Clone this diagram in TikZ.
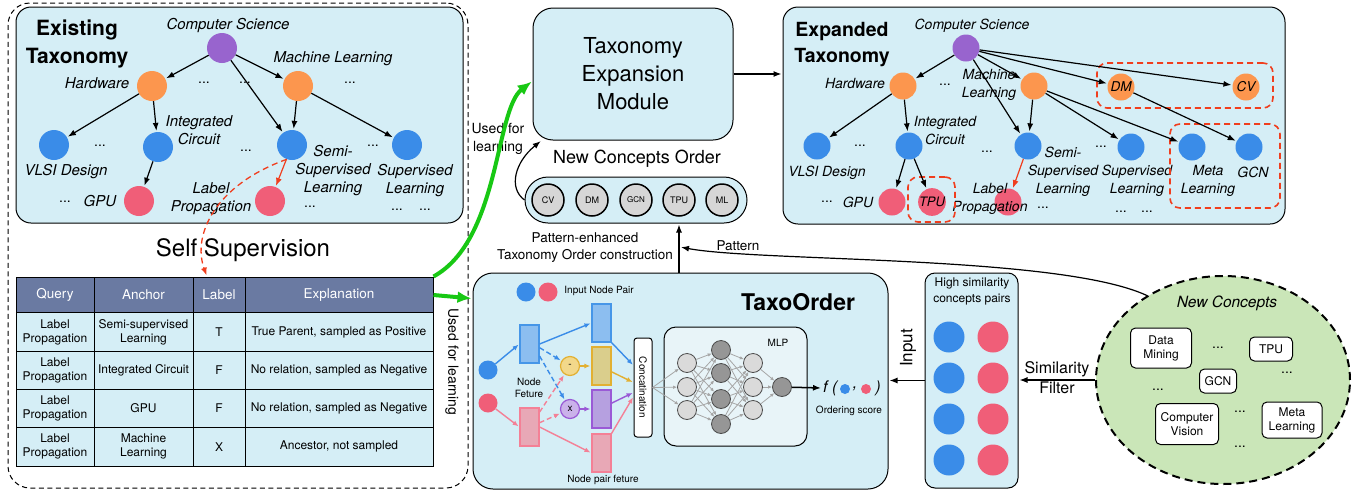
\documentclass[tikz,border=0pt]{standalone}
\usepackage{fontspec}
\setmainfont{TeX Gyre Heros}
\usetikzlibrary{arrows.meta,shapes.geometric,calc}

\definecolor{boxblue}{RGB}{213,238,246}
\definecolor{cspurple}{RGB}{152,100,206}
\definecolor{hworange}{RGB}{252,150,78}
\definecolor{leafblue}{RGB}{58,140,232}
\definecolor{leafred}{RGB}{240,94,120}
\definecolor{headblue}{RGB}{106,122,162}
\definecolor{learngreen}{RGB}{24,200,20}
\definecolor{ncgreen}{RGB}{202,230,184}
\definecolor{dashred}{RGB}{240,62,30}
\definecolor{featblue}{RGB}{140,190,240}
\definecolor{featblueline}{RGB}{70,150,232}
\definecolor{featpink}{RGB}{232,168,182}
\definecolor{featpinkline}{RGB}{244,128,150}
\definecolor{featyellow}{RGB}{218,206,140}
\definecolor{featyellowline}{RGB}{226,176,50}
\definecolor{featpurple}{RGB}{182,160,224}
\definecolor{featpurpleline}{RGB}{154,90,214}
\definecolor{opyellow}{RGB}{242,216,138}
\definecolor{oppurple}{RGB}{202,178,234}
\definecolor{lightneuron}{RGB}{218,218,218}
\definecolor{darkneuron}{RGB}{150,150,150}
\definecolor{mlpfill}{RGB}{232,244,248}
\definecolor{ordergray}{RGB}{214,214,214}

\begin{document}
\begin{tikzpicture}[x=1pt, y=-1pt, shorten >=1pt,
    >={Latex[length=8pt,width=6pt]},
    every edge/.style={draw, line width=1.2pt},
    box/.style={draw, line width=1pt, fill=boxblue, rounded corners=15pt},
    title/.style={font=\bfseries\fontsize{21}{28}\selectfont, align=center},
    lbl/.style={font=\itshape\fontsize{15}{18}\selectfont, align=center, inner sep=1pt},
    dots/.style={font=\fontsize{14}{16}\selectfont, inner sep=0pt},
    tnode/.style={circle, inner sep=0pt, minimum size=30pt},
    cs/.style={tnode, fill=cspurple},
    hw/.style={tnode, fill=hworange},
    leaf/.style={tnode, fill=leafblue},
    pair/.style={tnode, fill=leafred},
    newbox/.style={draw=dashred, dash pattern=on 6pt off 4pt, line width=1.6pt, rounded corners=10pt},
    headcell/.style={draw, line width=1pt, fill=headblue, text=white, minimum height=36pt, font=\fontsize{13.5}{16}\selectfont},
    cell/.style={draw, line width=1pt, fill=boxblue, minimum height=38.25pt, align=center, inner sep=1pt, font=\fontsize{12}{14}\selectfont},
    small/.style={font=\fontsize{10}{12}\selectfont, align=center, inner sep=1pt},
    dot/.style={circle, inner sep=0pt, minimum size=19pt},
    feat/.style={draw, line width=1.2pt, minimum width=19pt, minimum height=38pt, inner sep=0pt},
    op/.style={circle, draw, line width=1.2pt, minimum size=19pt, inner sep=0pt, font=\fontsize{10}{12}\selectfont},
    flow/.style={->, line width=1.4pt, >={Latex[length=6pt,width=5pt]}},
    neuron/.style={circle, draw=black!70, line width=0.8pt, fill=lightneuron, minimum size=19pt, inner sep=0pt},
    mlpedge/.style={->, gray!70, line width=0.8pt, >={Latex[length=4pt,width=3.5pt]}, shorten >=0pt},
    order/.style={circle, draw, line width=1.5pt, fill=ordergray, minimum size=32pt, inner sep=0pt, font=\fontsize{9}{10}\selectfont},
    concept/.style={draw, line width=1pt, fill=white, rounded corners=5pt, align=center, inner sep=3pt, font=\fontsize{12}{14}\selectfont},
    learnarrow/.style={->, learngreen, line width=4pt, >={Latex[length=14pt,width=12pt]}},
    conn/.style={->, line width=1.2pt}]

\useasboundingbox (0,0) rectangle (1369,496);

% Self supervision frame
\node[draw, dash pattern=on 5pt off 3.5pt, line width=1pt, rounded corners=22pt, minimum width=460pt, minimum height=485pt] (frame) at (238,245.5) {};

% Existing taxonomy
\node[box, minimum width=447pt, minimum height=216pt] (exbox) at (239.5,115) {};
\node[title] (extitle) at (77,44) {Existing\\Taxonomy};
\node[cs] (A) at (222,48) {}; % Root node
\node[lbl] (Alab) at (228,25) {Computer Science};
\node[hw] (B) at (152,86) {}; % Child of A
\node[lbl] (Blab) at (97,83) {Hardware};
\node[hw] (C) at (298,86) {}; % Child of A
\node[lbl] (Clab) at (333,59) {Machine Learning};
\node[leaf] (D) at (54,145) {}; % Child of B
\node[lbl] (Dlab) at (66,172) {VLSI Design};
\node[leaf] (E) at (158,147) {}; % Child of B
\node[lbl] (Elab) at (199,130) {Integrated\\Circuit};
\node[leaf] (F) at (292,145) {}; % Child of A and C
\node[lbl] (Flab) at (333,171) {Semi-\\Supervised\\Learning};
\node[leaf] (G) at (407,145) {}; % Child of C
\node[lbl] (Glab) at (415,180.5) {Supervised\\Learning};
\node[pair] (H) at (139,201) {}; % Child of E
\node[lbl] (Hlab) at (100,201) {GPU};
\node[pair] (I) at (270,201) {}; % Child of F
\node[lbl] (Ilab) at (211,199) {Label\\Propagation};
\foreach \p [count=\i] in {(100,146),(204,83),(245,83),(350,83),(246,151),(373,146),(65,202),(310,207),(397,210),(425,210)}
  \node[dots] (ed\i) at \p {...};

% Define edges
\path [->](A) edge (B);
\path [->](A) edge (C);
\path [->](A) edge (F);
\path [->](B) edge (D);
\path [->](B) edge (E);
\path [->](E) edge (H);
\path [->](C) edge (F);
\path [->](C) edge (G);
\path [->](F) edge[dashred] (I);

% Self supervision table
\node[font=\fontsize{24}{28}\selectfont] (selfsup) at (243,250) {Self Supervision};
\node[headcell, minimum width=78pt] (h1) at (55,295) {Query};
\node[headcell, minimum width=99pt] (h2) at (143.5,295) {Anchor};
\node[headcell, minimum width=52pt] (h3) at (219,295) {Label};
\node[headcell, minimum width=188pt] (h4) at (339,295) {Explanation};
\foreach \cy/\cq/\ca/\cl/\ce [count=\cn] in {
    332.1/{Label\\Propagation}/{Semi-supervised\\Learning}/T/{True Parent, sampled as Positive},
    370.4/{Label\\Propagation}/{Integrated Circuit}/F/{No relation, sampled as Negative},
    408.6/{Label\\Propagation}/GPU/F/{No relation, sampled as Negative},
    446.9/{Label\\Propagation}/{Machine\\Learning}/X/{Ancestor, not sampled}} {
  \node[cell, minimum width=78pt] (q\cn) at (55,\cy) {\cq};
  \node[cell, minimum width=99pt] (a\cn) at (143.5,\cy) {\ca};
  \node[cell, minimum width=52pt] (l\cn) at (219,\cy) {\cl};
  \node[cell, minimum width=188pt] (e\cn) at (339,\cy) {\ce};
}
\node[rotate=-90, font=\fontsize{14}{16}\selectfont] (used1) at (452,362) {Used for learning};
\draw[->, dashred, dash pattern=on 6pt off 4pt, line width=1.3pt] (F.-110) .. controls (215,185) and (192,235) .. ($(h3.north)+(-12,0)$);

% Taxonomy expansion module
\node[box, rounded corners=20pt, minimum width=200pt, minimum height=132pt, font=\fontsize{22}{28}\selectfont, align=center] (tem) at (633,74) {Taxonomy\\Expansion\\Module};
\node[font=\fontsize{14}{18}\selectfont, align=center, inner sep=1pt] (used2) at (498,139) {Used for\\learning};
\node[font=\fontsize{18}{20}\selectfont] (ordlab) at (637,159) {New Concepts Order};
\node[box, rounded corners=23pt, minimum width=222pt, minimum height=46pt] (pill) at (636,200) {};
\node[order] (oCV) at (548,200) {CV};
\node[order] (oDM) at (592,200) {DM};
\node[order, font=\fontsize{8}{9}\selectfont] (oGCN) at (636,200) {GCN};
\node[order] (oTPU) at (679,200) {TPU};
\node[order] (oML) at (722,200) {ML};
\node[font=\fontsize{13.5}{17}\selectfont, align=center] (penh) at (585,248) {Pattern-enhanced\\Taxonomy Order construction};

% Expanded taxonomy
\node[box, minimum width=502pt, minimum height=217pt] (xbox) at (1034,115.5) {};
\node[title, font=\bfseries\fontsize{19.5}{26}\selectfont] (xtitle) at (842,45) {Expanded\\Taxonomy};
\begin{scope}[tnode/.append style={minimum size=27pt}, lbl/.append style={font=\itshape\fontsize{14}{18}\selectfont}]
\node[cs] (XA) at (966,48) {}; % Root node
\node[lbl] (XAlab) at (972,26) {Computer Science};
\node[hw] (XB) at (903,86) {};
\node[lbl] (XBlab) at (855,83) {Hardware};
\node[hw] (XC) at (1034,86) {};
\node[lbl] (XClab) at (989,84.5) {Machine\\Learning};
\node[hw, font=\itshape\fontsize{13.5}{15}\selectfont] (XDM) at (1121,87) {DM}; % new concept
\node[hw, font=\itshape\fontsize{13.5}{15}\selectfont] (XCV) at (1246,87) {CV}; % new concept
\node[leaf] (XD) at (817,146) {};
\node[lbl] (XDlab) at (827,173) {VLSI Design};
\node[leaf] (XE) at (909,146) {};
\node[lbl] (XElab) at (945,131) {Integrated\\Circuit};
\node[leaf] (XF) at (1028,146) {};
\node[lbl] (XFlab) at (1063,171.5) {Semi-\\Supervised\\Learning};
\node[leaf] (XG) at (1131,147) {};
\node[lbl] (XGlab) at (1137,181) {Supervised\\Learning};
\node[leaf] (XML) at (1192,147) {}; % new concept
\node[lbl] (XMLlab) at (1208,181) {Meta\\Learning};
\node[leaf] (XGCN) at (1249,147) {}; % new concept
\node[lbl] (XGCNlab) at (1253,172) {GCN};
\node[pair] (XH) at (892,202) {};
\node[lbl] (XHlab) at (858,202) {GPU};
\node[pair, font=\itshape\fontsize{13}{15}\selectfont] (XTPU) at (932,202) {TPU}; % new concept
\node[pair] (XI) at (1008,202) {};
\node[lbl] (XIlab) at (990,199) {Label\\Propagation};
\end{scope}
\foreach \p [count=\i] in {(860,146),(945,85),(987,152),(1101,147),(827,202),(1043,208),(1121,212),(1147,212)}
  \node[dots] (xd\i) at \p {...};
\node[newbox, minimum width=176pt, minimum height=45pt] (newtop) at (1185,85.5) {};
\node[newbox, minimum width=110pt, minimum height=84pt] (newleaf) at (1225,166) {};
\node[newbox, minimum width=47pt, minimum height=45pt] (newtpu) at (931.5,199.5) {};

\path [->](XA) edge (XB);
\path [->](XA) edge (XC);
\path [->](XA) edge (XF);
\path [->](XA) edge (XDM);
\path [->](XA) edge (XCV);
\path [->](XB) edge (XD);
\path [->](XB) edge (XE);
\path [->](XE) edge (XH);
\path [->](XE) edge (XTPU);
\path [->](XC) edge (XF);
\path [->](XC) edge (XG);
\path [->](XC) edge (XML);
\path [->](XDM) edge (XGCN);
\path [->](XF) edge[dashred] (XI);

% TaxoOrder
\node[box, rounded corners=20pt, minimum width=415pt, minimum height=216pt] (TO) at (680.5,381) {};
\node[font=\bfseries\fontsize{23}{26}\selectfont] (TOtitle) at (798,302) {TaxoOrder};
\node[dot, fill=leafblue] (pb) at (526,292) {};
\node[dot, fill=leafred] (pr) at (548,292) {};
\node[small] (pairlab) at (599,291) {Input Node Pair};
\node[dot, fill=leafblue] (inb) at (488,370) {};
\node[dot, fill=leafred] (inr) at (488,403) {};
\node[feat, fill=featblue, draw=featblueline] (fb) at (529.5,344) {};
\node[feat, fill=featpink, draw=featpinkline] (fr) at (529.5,427) {};
\node[small] (nflab) at (529,388) {Node\\Feture};
\node[op, fill=opyellow, draw=featyellowline] (minus) at (570,366) {-};
\node[op, fill=oppurple, draw=featpurpleline] (times) at (570,409) {x};
\node[feat, fill=featblue, draw=featblueline] (pb2) at (601.5,323) {};
\node[feat, fill=featyellow, draw=featyellowline] (py) at (601.5,366) {};
\node[feat, fill=featpurple, draw=featpurpleline] (pp) at (601.5,409) {};
\node[feat, fill=featpink, draw=featpinkline] (pr2) at (601.5,453) {};
\node[small] (nplab) at (603,480) {Node pair feture};
\node[draw, line width=1pt, fill=white, rounded corners=3pt, minimum width=18pt, minimum height=99pt] (cat) at (643,387.5) {};
\node[small, rotate=-90] (catlab) at (643,387.5) {Concatination};

\draw[flow, leafblue] (inb) -- (fb.west);
\draw[flow, featpinkline] (inr) -- (fr.west);
\draw[flow, leafblue] (fb.east) -- (pb2.west);
\draw[flow, leafblue, dash pattern=on 5pt off 3pt] (fb.-20) -- (minus);
\draw[flow, leafblue, dash pattern=on 5pt off 3pt] (fb.-50) -- (times);
\draw[flow, featpinkline, dash pattern=on 5pt off 3pt] (fr.56) -- (minus);
\draw[flow, featpinkline, dash pattern=on 5pt off 3pt] (fr.23) -- (times);
\draw[flow, featpinkline] (fr.east) -- (pr2.west);
\draw[flow, featyellowline] (minus) -- (py.west);
\draw[flow, featpurpleline] (times) -- (pp.west);
\draw[flow, leafblue] (pb2.south east) -- ($(cat.west)+(0,-22)$);
\draw[flow, featyellowline] (py.-30) -- ($(cat.west)+(0,-5)$);
\draw[flow, featpurpleline] (pp.30) -- ($(cat.west)+(0,5)$);
\draw[flow, featpinkline] (pr2.north east) -- ($(cat.west)+(0,9)$);

% MLP
\node[draw, line width=1pt, fill=mlpfill, rounded corners=12pt, minimum width=143pt, minimum height=119pt] (mlp) at (735.5,386.5) {};
\node[small] (mlplab) at (778,343) {MLP};
\foreach \y [count=\i] in {363,387,410} \node[neuron] (a\i) at (687,\y) {};
\foreach \y [count=\i] in {350,373,399,424} \node[neuron, fill=darkneuron] (b\i) at (721,\y) {};
\foreach \y [count=\i] in {363,387,410} \node[neuron] (c\i) at (753,\y) {};
\node[neuron, fill=darkneuron] (out) at (782,387) {};
\foreach \i in {1,2,3} {
  \draw[mlpedge] (cat.east) -- (a\i);
  \draw[mlpedge] (c\i) -- (out);
  \foreach \j in {1,...,4} {
    \draw[mlpedge] (a\i) -- (b\j);
    \draw[mlpedge] (b\j) -- (c\i);
  }
}
\node[font=\itshape\fontsize{16}{18}\selectfont, anchor=west, inner sep=1pt] (fopen) at (822,388) {f (};
\node[circle, fill=leafblue, minimum size=10pt, inner sep=0pt] (fb1) at (845,389) {};
\node[font=\itshape\fontsize{16}{18}\selectfont, inner sep=0pt] (fcomma) at (855,389) {,};
\node[circle, fill=leafred, minimum size=10pt, inner sep=0pt] (fr1) at (866,389) {};
\node[font=\itshape\fontsize{16}{18}\selectfont, inner sep=1pt] (fclose) at (878,388) {)};
\node[small] (ordscore) at (849,411) {Ordering score};
\draw[->, line width=1.5pt] (out) -- (fopen.west);

% High similarity pairs
\node[box, rounded corners=10pt, minimum width=93pt, minimum height=215pt] (hsc) at (971.5,380.5) {};
\node[font=\fontsize{12}{16}\selectfont, align=center, inner sep=1pt] (hsclab) at (972,291) {High similarity\\concepts pairs};
\foreach \y [count=\i] in {337,378,419,460} {
  \node[dot, fill=leafblue, minimum size=31pt] (sb\i) at (949,\y) {};
  \node[dot, fill=leafred, minimum size=31pt] (sr\i) at (993,\y) {};
}
\node[rotate=90, font=\fontsize{17}{20}\selectfont] (inlab) at (908,348) {Input};

% New concepts
\node[ellipse, draw, dash pattern=on 8pt off 5pt, line width=2pt, fill=ncgreen, minimum width=254pt, minimum height=208pt] (nc) at (1223,380) {};
\node[font=\itshape\fontsize{15.5}{18}\selectfont] (nclab) at (1227,303) {New Concepts};
\node[concept, minimum width=61pt, minimum height=40pt] (cdm) at (1161,348) {Data\\Mining};
\node[concept, minimum width=43pt, minimum height=24pt] (ctpu) at (1271,349) {TPU};
\node[concept, minimum width=37pt, minimum height=24pt] (cgcn) at (1218,381) {GCN};
\node[concept, minimum width=63pt, minimum height=41pt] (ccv) at (1187,424) {Computer\\Vision};
\node[concept, minimum width=60pt, minimum height=36pt] (cml) at (1292,420) {Meta\\Learning};
\foreach \p [count=\i] in {(1218,348),(1287,373),(1158,390),(1240,412),(1240,447)}
  \node[dots] (nd\i) at \p {...};
\node[font=\fontsize{16}{20}\selectfont, align=center] (simlab) at (1057,378) {Similarity\\Filter};

% Connections between modules
\coordinate (patin) at (680,247);
\node[font=\fontsize{13.5}{16}\selectfont] (patlab) at (738,246) {Pattern};
\draw[conn] (tem.east) -- (tem.east -| xbox.west);
\draw[conn] (pill.west) .. controls (508,188) and (515,162) .. (tem.-144);
\draw[conn] (TO.north -| oTPU) -- (pill.south -| oTPU);
\draw[conn] (nc.132) .. controls (1060,255) and (760,262) .. (patin);
\draw[conn] (hsc.west) -- (hsc.west -| TO.east);
\draw[conn] (nc.west) -- (nc.west -| hsc.east);
\draw[learnarrow] (h4.north east) .. controls (500,240) and (495,110) .. (tem.-176);
\draw[learnarrow] (h4.east) -- ($(TO.north west)+(0,26)$);
\end{tikzpicture}
\end{document}
